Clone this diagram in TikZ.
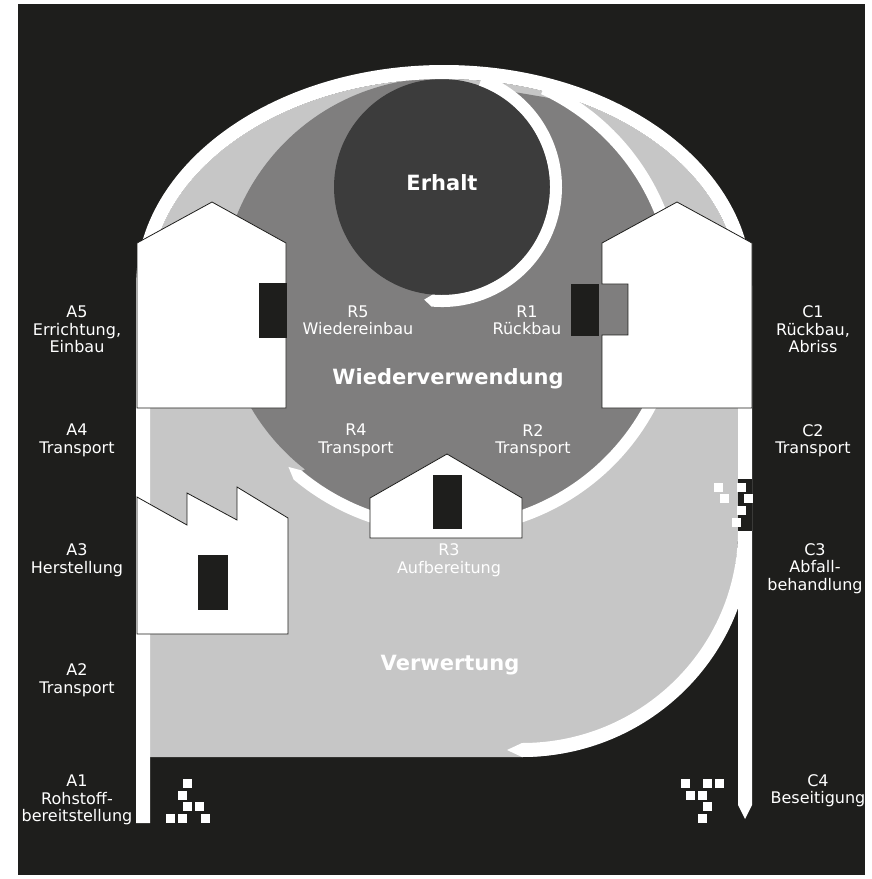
\documentclass[tikz,border=0pt]{standalone}
\usepackage{fontspec}
\setmainfont{DejaVu Sans}
\usetikzlibrary{calc}
\definecolor{nightbg}{RGB}{30,30,28}
\definecolor{stonegray}{RGB}{60,60,60}
\definecolor{midgray}{RGB}{127,126,126}
\definecolor{palegray}{RGB}{198,198,198}

\begin{document}
\begin{tikzpicture}[x=1pt, y=-1pt,
    lbl/.style={text=white, align=center, inner sep=0pt, font=\fontsize{16}{17.5}\selectfont},
    head/.style={text=white, inner sep=0pt, font=\fontsize{21}{24}\selectfont\bfseries},
    bldg/.style={fill=white, draw=nightbg, line width=0.8pt},
    win/.style={fill=nightbg, draw=nightbg, line width=0.6pt},
    cube/.style={fill=white}]
	\useasboundingbox (0,0) rectangle (871,879);
	\fill[white] (0,0) rectangle (871,879);
	\fill[nightbg] (18,4) rectangle (865,875);
	
	% Verwertung field
	\fill[palegray] (150,757) -- (150,286) arc[start angle=180, end angle=360, x radius=294, y radius=207]
	    -- (738,530) arc[start angle=0, end angle=90, x radius=216, y radius=227] -- cycle;
	
	% Wiederverwendung field and its loop
	\fill[midgray] ($(446,298)+(-62:226)$) arc[start angle=-62, end angle=130, radius=226]
	    -- ($(440,297)+(128:219)$) arc[start angle=128, end angle=268, radius=219] -- cycle;
	\fill[white] ($(446,298)+(130:225)$) arc[start angle=130, end angle=-65, radius=225]
	    -- ($(446,298)+(-65:237)$) arc[start angle=-65, end angle=130, radius=237]
	    -- ($(446,298)+(133:231)$) -- cycle;
	
	% Erhalt disc and its loop
	\fill[stonegray] (442,187) circle[radius=108];
	\fill[white] ($(442,187)+(-70:108)$) arc[start angle=-70, end angle=95, radius=108]
	    -- ($(442,187)+(99:114)$) -- ($(442,187)+(95:120)$)
	    arc[start angle=95, end angle=-70, radius=120] -- cycle;
	
	% main line A1 -> C4
	\fill[white] (136,823) -- (136,286) arc[start angle=180, end angle=360, x radius=308, y radius=221]
	    -- (752,805) -- (745,819) -- (738,805)
	    -- (738,286) arc[start angle=0, end angle=-180, x radius=294, y radius=207] -- (150,823) -- cycle;
	\fill[white] (752,530) arc[start angle=0, end angle=90, x radius=230, y radius=227]
	    -- (507,750) -- (522,743) arc[start angle=90, end angle=0, x radius=216, y radius=213] -- cycle;
	
	% crumbling pieces
	\fill[nightbg] (738,479) rectangle (752,531);
	\foreach \sx/\sy in {714/483, 737/483, 720/494, 744/494, 737/506, 732/518,
	    183/779, 178/791, 183/802, 195/802, 166/814, 178/814, 201/814,
	    681/779, 703/779, 715/779, 686/791, 698/791, 703/802, 698/814}
	  \fill[cube] (\sx,\sy) rectangle ++(9,9);
	
	% buildings
	\draw[bldg] (137,408) -- (137,243) -- (212,202) -- (286,243) -- (286,408) -- cycle;
	\draw[win] (259,283) rectangle (286,337);
	\draw[bldg] (602,408) -- (602,335) -- (628,335) -- (628,284) -- (602,284) -- (602,243)
	    -- (677,202) -- (752,243) -- (752,408) -- cycle;
	\draw[win] (571,284) rectangle (598,335);
	\draw[bldg] (370,538) -- (370,498) -- (447,454) -- (522,498) -- (522,538) -- cycle;
	\draw[win] (433,475) rectangle (461,528);
	\draw[bldg] (137,634) -- (137,497) -- (187,525) -- (187,493) -- (237,520) -- (237,487)
	    -- (288,518) -- (288,634) -- cycle;
	\draw[win] (198,555) rectangle (227,609);
	
	% phases
	\node[lbl] (a5) at (77,329.5) {A5\\Errichtung,\\Einbau};
	\node[lbl] (a4) at (77,440.5) {A4\\Transport};
	\node[lbl] (a3) at (77,560) {A3\\Herstellung};
	\node[lbl] (a2) at (77,680) {A2\\Transport};
	\node[lbl] (a1) at (77,800) {A1\\Rohstoff-\\bereitstellung};
	\node[lbl] (c1) at (813,329.5) {C1\\Rückbau,\\Abriss};
	\node[lbl] (c2) at (813,440.5) {C2\\Transport};
	\node[lbl] (c3) at (815,568.5) {C3\\Abfall-\\behandlung};
	\node[lbl] (c4) at (818,790.5) {C4\\Beseitigung};
	\node[lbl] (r5) at (358,320.5) {R5\\Wiedereinbau};
	\node[lbl] (r1) at (527,320.5) {R1\\Rückbau};
	\node[lbl] (r4) at (356,440.5) {R4\\Transport};
	\node[lbl] (r2) at (533,440.5) {R2\\Transport};
	\node[lbl] (r3) at (449,560) {R3\\Aufbereitung};
	\node[head] (erhalt) at (442,183) {Erhalt};
	\node[head] (reuse) at (448,379) {Wiederverwendung};
	\node[head] (recycle) at (450,665) {Verwertung};
\end{tikzpicture}
\end{document}
